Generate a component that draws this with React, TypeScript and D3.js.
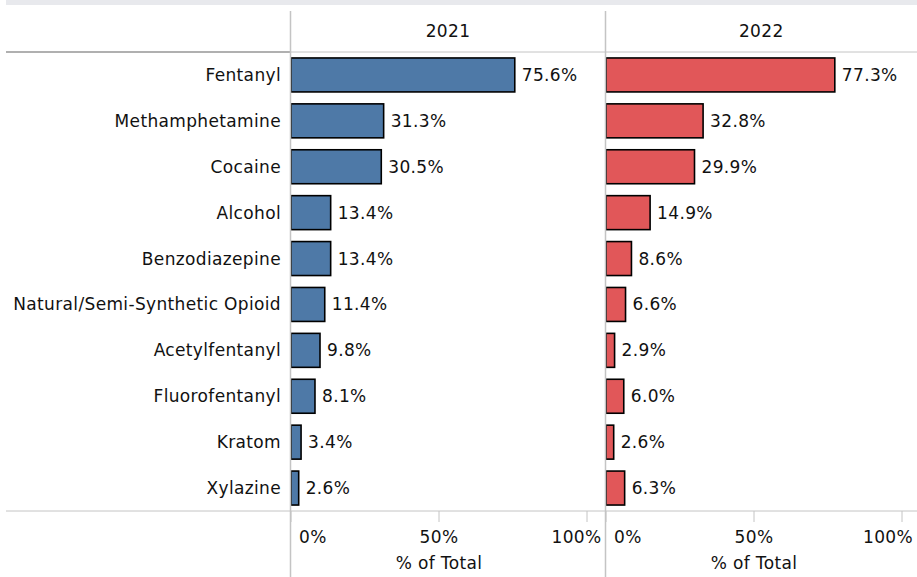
import { useEffect, useRef } from 'react'
import * as d3 from 'd3'

const substances = [
  'Fentanyl',
  'Methamphetamine',
  'Cocaine',
  'Alcohol',
  'Benzodiazepine',
  'Natural/Semi-Synthetic Opioid',
  'Acetylfentanyl',
  'Fluorofentanyl',
  'Kratom',
  'Xylazine',
]
const years = ['2021', '2022']
const values2021 = [75.6, 31.3, 30.5, 13.4, 13.4, 11.4, 9.8, 8.1, 3.4, 2.6]
const values2022 = [77.3, 32.8, 29.9, 14.9, 8.6, 6.6, 2.9, 6.0, 2.6, 6.3]
const tickValues = [0, 50, 100]
const yearColors = ['#4e79a7', '#e15759']

const W = 917
const H = 577
const FONT = '"DejaVu Sans", sans-serif'
const FS = 17
const GRID = '#c4c4c4'
const INK = '#111'

function styleText(sel: d3.Selection<any, any, any, any>) {
  return sel
    .attr('font-family', FONT)
    .attr('font-size', FS)
    .attr('letter-spacing', 0.35)
    .attr('fill', INK)
}

export default function App() {
  const svgRef = useRef<SVGSVGElement>(null)

  useEffect(() => {
    if (!svgRef.current) return
    const svg = d3.select(svgRef.current)
    svg.selectAll('*').remove()

    const headerTop = 11
    const headerBottom = 52
    const axisY = 511
    const panels = [
      { left: 290.5, right: 605.5, x0: 291, x1: 587 },
      { left: 605.5, right: W, x0: 606, x1: 902 },
    ]

    // top band
    svg.append('rect').attr('x', 6).attr('y', 0).attr('width', W - 6).attr('height', 5).attr('fill', '#e8e9ed')

    const y = d3.scaleBand<string>()
      .domain(substances)
      .range([headerBottom, axisY])
      .paddingInner(0.26)
      .paddingOuter(0.13)

    // row labels
    svg.append('g').selectAll('text')
      .data(substances)
      .join('text')
      .attr('x', 281)
      .attr('y', d => y(d)! + y.bandwidth() / 2)
      .attr('dy', '0.35em')
      .attr('text-anchor', 'end')
      .call(styleText)
      .text(d => d)

    const series = [values2021, values2022]

    panels.forEach((p, i) => {
      const x = d3.scaleLinear().domain([0, 100]).range([p.x0, p.x1])
      const g = svg.append('g')

      // header
      g.append('text')
        .attr('x', (p.left + p.right) / 2)
        .attr('y', 31)
        .attr('dy', '0.35em')
        .attr('text-anchor', 'middle')
        .call(styleText)
        .text(years[i])

      const data = substances.map((s, k) => ({ s, v: series[i][k] }))

      g.selectAll('rect.bar')
        .data(data)
        .join('rect')
        .attr('class', 'bar')
        .attr('x', x(0))
        .attr('y', d => y(d.s)!)
        .attr('width', d => x(d.v) - x(0))
        .attr('height', y.bandwidth())
        .attr('fill', yearColors[i])
        .attr('stroke', '#000')
        .attr('stroke-width', 1.6)

      g.selectAll('text.val')
        .data(data)
        .join('text')
        .attr('class', 'val')
        .attr('x', d => x(d.v) + 7)
        .attr('y', d => y(d.s)! + y.bandwidth() / 2)
        .attr('dy', '0.35em')
        .call(styleText)
        .text(d => `${d.v.toFixed(1)}%`)

      // ticks
      g.selectAll('line.tick')
        .data(tickValues)
        .join('line')
        .attr('class', 'tick')
        .attr('x1', d => x(d)).attr('x2', d => x(d))
        .attr('y1', axisY).attr('y2', axisY + 11)
        .attr('stroke', GRID).attr('stroke-width', 1)

      g.selectAll('text.tl')
        .data(tickValues)
        .join('text')
        .attr('class', 'tl')
        .attr('x', d => d === 0 ? x(d) + 8 : d === 100 ? p.right - 4 : x(d))
        .attr('y', 537)
        .attr('dy', '0.35em')
        .attr('text-anchor', d => d === 0 ? 'start' : d === 100 ? 'end' : 'middle')
        .call(styleText)
        .text(d => `${d}%`)

      g.append('text')
        .attr('x', x(50))
        .attr('y', 563)
        .attr('dy', '0.35em')
        .attr('text-anchor', 'middle')
        .call(styleText)
        .text('% of Total')
    })

    // grid lines
    svg.append('line').attr('x1', 6).attr('x2', 290).attr('y1', headerBottom).attr('y2', headerBottom)
      .attr('stroke', '#b0b0b0').attr('stroke-width', 2)
    svg.append('line').attr('x1', 290).attr('x2', W).attr('y1', headerBottom).attr('y2', headerBottom)
      .attr('stroke', GRID).attr('stroke-width', 1)
    svg.append('line').attr('x1', 6).attr('x2', W).attr('y1', axisY).attr('y2', axisY)
      .attr('stroke', GRID).attr('stroke-width', 1)
    panels.forEach(p => {
      svg.append('line').attr('x1', p.left).attr('x2', p.left).attr('y1', headerTop).attr('y2', H)
        .attr('stroke', GRID).attr('stroke-width', 1.5)
    })
  }, [])

  return (
    <div style={{ position: 'absolute', left: 0, top: 0 }}>
      <svg ref={svgRef} width={W} height={H} style={{ display: 'block' }} />
    </div>
  )
}
